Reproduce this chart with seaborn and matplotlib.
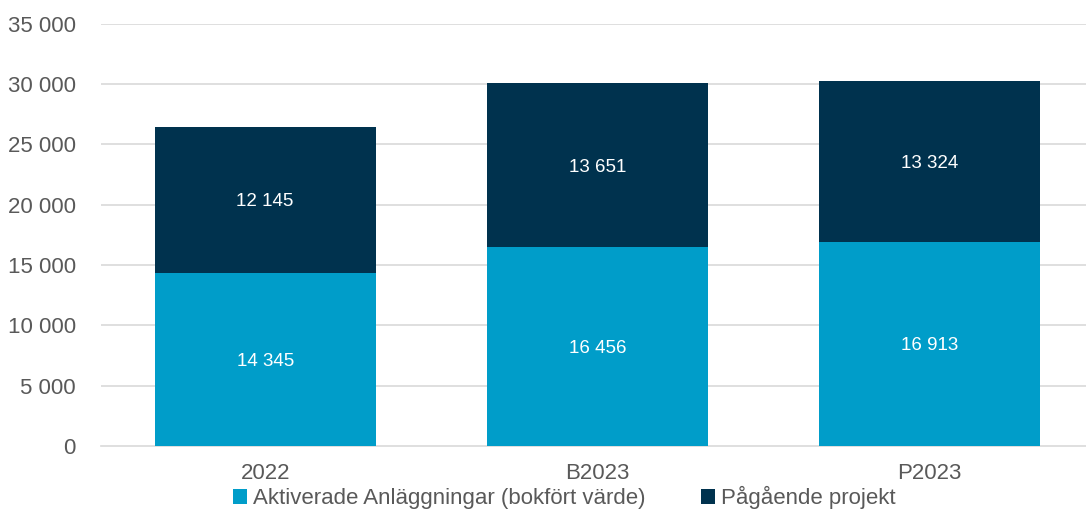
import matplotlib
matplotlib.use("Agg")
import matplotlib.pyplot as plt
import pandas as pd
import seaborn as sns

# data
years = ["2022", "B2023", "P2023"]
aktiverade = [14345, 16456, 16913]
pagaende = [12145, 13651, 13324]
series_names = ["Aktiverade Anläggningar (bokfört värde)", "Pågående projekt"]
yticks = [0, 5000, 10000, 15000, 20000, 25000, 30000, 35000]

light = "#009DC9"
dark = "#00324E"
grey = "#595959"

sns.set_theme(style="white")
plt.rcParams["font.family"] = ["Liberation Sans", "DejaVu Sans"]


def fmt(v):
    # swedish style thousands separator
    return f"{v:,}".replace(",", " ")


df = pd.DataFrame({"year": years, "akt": aktiverade, "pag": pagaende})
df["total"] = df["akt"] + df["pag"]

fig = plt.figure(figsize=(10.86, 5.09), dpi=100)
ax = fig.add_axes([0.093, 0.124, 0.907, 0.829])

# grid behind the bars
for t in yticks[1:]:
    ax.axhline(t, color="#D9D9D9", lw=1.2, zorder=0)

# total first, bottom segment drawn on top
sns.barplot(data=df, x="year", y="total", color=dark, width=0.665,
            saturation=1, ax=ax, label=series_names[1], zorder=2,
            linewidth=0)
sns.barplot(data=df, x="year", y="akt", color=light, width=0.665,
            saturation=1, ax=ax, label=series_names[0], zorder=3,
            linewidth=0)

for i, row in df.iterrows():
    ax.text(i, row["akt"] / 2, fmt(row["akt"]), ha="center",
            va="center_baseline", color="white", fontsize=13.5, zorder=4)
    ax.text(i, row["akt"] + row["pag"] / 2, fmt(row["pag"]), ha="center",
            va="center_baseline", color="white", fontsize=13.5, zorder=4)

ax.set_ylim(0, 35000)
ax.set_xlim(-0.494, 2.47)
ax.set_yticks(yticks)
ax.set_yticklabels([fmt(t) for t in yticks])
ax.set_xlabel("")
ax.set_ylabel("")
ax.tick_params(axis="both", colors=grey, labelsize=16, length=0)
ax.tick_params(axis="y", pad=18)
ax.tick_params(axis="x", pad=12)
for lbl in ax.get_xticklabels() + ax.get_yticklabels():
    lbl.set_color(grey)

for s in ["top", "right", "left"]:
    ax.spines[s].set_visible(False)
ax.spines["bottom"].set_color("#D9D9D9")
ax.spines["bottom"].set_linewidth(1.2)

handles, labels = ax.get_legend_handles_labels()
order = [labels.index(n) for n in series_names]
leg = fig.legend([handles[k] for k in order], [labels[k] for k in order],
                 loc="lower center", bbox_to_anchor=(0.52, -0.04), ncol=2,
                 frameon=False, fontsize=16, handlelength=0.6,
                 handleheight=0.6, handletextpad=0.3, columnspacing=2.5)
for t in leg.get_texts():
    t.set_color(grey)
if ax.get_legend() is not None:
    ax.get_legend().remove()

fig.savefig("out.png", dpi=100)
